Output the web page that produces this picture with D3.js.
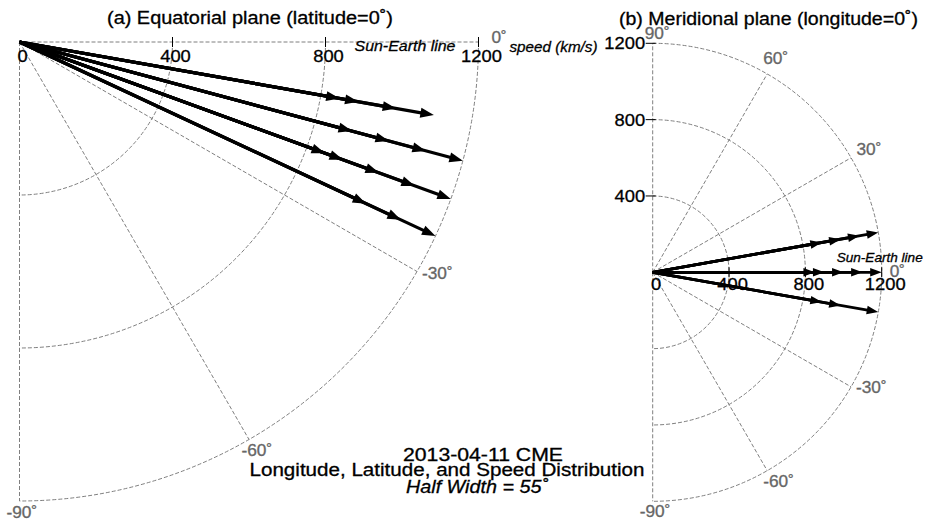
<!DOCTYPE html>
<html>
<head>
<meta charset="utf-8">
<script src="https://cdn.jsdelivr.net/npm/d3@7"></script>
<style>
  body { margin: 0; background: #fff; }
  svg { display: block; }
  text { font-family: "Liberation Sans", Arial, Helvetica, sans-serif; }
</style>
</head>
<body>
<svg id="chart" width="927" height="523"></svg>
<script>
// Speed rings (km/s) and outer limit shared by both panels
const speedTicks = [400, 800, 1200];
const speedLabels = ["0", "400", "800", "1200"];
const speedMax = 1200;

// (a) Equatorial plane: longitude of each ray (deg) and the speeds (km/s) marked on it
const lonAngles = [-10, -15, -20, -25];
const lonSpeeds = [
  [850, 900, 1000, 1100],
  [900, 1000, 1100, 1200],
  [850, 900, 1000, 1100, 1200],
  [1000, 1100, 1200]
];
const lonSpokes = [0, -30, -60, -90];

// (b) Meridional plane: latitude of each ray (deg) and the speeds (km/s) marked on it
const latAngles = [10, 0, -10];
const latSpeeds = [
  [900, 1000, 1100, 1200],
  [850, 900, 1000, 1100, 1200],
  [900, 1000, 1200]
];
const latSpokes = [90, 60, 30, 0, -30, -60, -90];

const titleA = "(a) Equatorial plane (latitude=0˚)";
const titleB = "(b) Meridional plane (longitude=0˚)";
const captionLines = ["2013-04-11 CME", "Longitude, Latitude, and Speed Distribution", "Half Width = 55˚"];

const svg = d3.select("#chart");
svg.append("rect").attr("width", 927).attr("height", 523).attr("fill", "#fff");

const GRID = "#7f7f7f";
const LABEL_GRAY = "#666";

function txt(g, s, x, y, o) {
  const sx = o.sx || 1;
  const fill = o.fill || "#000";
  const t = g.append("text")
    .attr("transform", `translate(${x},${y}) scale(${sx},1)`)
    .attr("font-size", o.size)
    .attr("text-anchor", o.anchor || "start")
    .attr("fill", fill)
    .attr("stroke", fill)
    .attr("stroke-width", 0.3)
    .text(s);
  if (o.italic) t.attr("font-style", "italic");
  if (o.len) t.attr("textLength", o.len / sx).attr("lengthAdjust", "spacingAndGlyphs");
  return t;
}

function polarPanel(cfg) {
  const g = svg.append("g");
  const r = d3.scaleLinear().domain([0, speedMax]).range([0, cfg.radius]);
  const rad = d => d * Math.PI / 180;
  const pt = (s, a) => [cfg.cx + r(s) * Math.cos(rad(a)), cfg.cy - r(s) * Math.sin(rad(a))];

  // speed rings
  speedTicks.forEach(s => {
    const p = d3.path();
    const [x0, y0] = pt(s, cfg.aMax);
    p.moveTo(x0, y0);
    p.arc(cfg.cx, cfg.cy, r(s), -rad(cfg.aMax), -rad(cfg.aMin), false);
    g.append("path").attr("d", p.toString())
      .attr("fill", "none").attr("stroke", GRID).attr("stroke-width", 1)
      .attr("stroke-dasharray", "4,2");
  });

  // angle spokes
  cfg.spokes.forEach(a => {
    const [x1, y1] = pt(speedMax, a);
    g.append("line").attr("x1", cfg.cx).attr("y1", cfg.cy).attr("x2", x1).attr("y2", y1)
      .attr("stroke", GRID).attr("stroke-width", 1).attr("stroke-dasharray", "4,2");
  });

  // spoke labels
  cfg.spokes.forEach(a => {
    const [x, y] = pt(speedMax, a);
    const [dx, dy] = cfg.labelOffset[a];
    txt(g, `${a}˚`, x + dx, y + dy, { size: 16, sx: 1.08, fill: LABEL_GRAY });
  });

  // ticks and labels along the 0° (Sun-Earth) line
  speedTicks.forEach(s => {
    const [x, y] = pt(s, 0);
    g.append("line").attr("x1", x).attr("x2", x).attr("y1", y - 5).attr("y2", y + 5)
      .attr("stroke", "#000").attr("stroke-width", 1);
  });
  [0].concat(speedTicks).forEach((s, i) => {
    const [x, y] = pt(s, 0);
    txt(g, speedLabels[i], x + cfg.tickDx, y + cfg.tickDy, { size: 17, sx: 1.08, anchor: "middle" });
  });

  // vertical speed axis (meridional panel only)
  if (cfg.vertAxis) {
    speedTicks.forEach((s, i) => {
      const [x, y] = pt(s, 90);
      g.append("line").attr("x1", x - 7).attr("x2", x + 3).attr("y1", y).attr("y2", y)
        .attr("stroke", "#000").attr("stroke-width", 1);
      txt(g, speedLabels[i + 1], x - 7.5, y + 6, { size: 17, sx: 1.08, anchor: "end" });
    });
  }

  // rays with arrowheads at each measured speed
  cfg.angles.forEach((a, k) => {
    const u = [Math.cos(rad(a)), -Math.sin(rad(a))];
    const n = [Math.sin(rad(a)), Math.cos(rad(a))];
    cfg.speeds[k].forEach(s => {
      const [tx, ty] = pt(s, a);
      const bx = tx - cfg.headLen * u[0], by = ty - cfg.headLen * u[1];
      g.append("line").attr("x1", cfg.cx).attr("y1", cfg.cy)
        .attr("x2", bx + 2 * u[0]).attr("y2", by + 2 * u[1])
        .attr("stroke", "#000").attr("stroke-width", cfg.lineW);
      g.append("polygon")
        .attr("points", [[tx, ty], [bx + cfg.headW * n[0], by + cfg.headW * n[1]],
                         [bx - cfg.headW * n[0], by - cfg.headW * n[1]]].map(p => p.join(",")).join(" "))
        .attr("fill", "#000");
    });
  });

  return { g, pt };
}

// (a) Equatorial plane
const pa = polarPanel({
  cx: 19.5, cy: 42, radius: 459, aMin: -90, aMax: 0,
  spokes: lonSpokes, angles: lonAngles, speeds: lonSpeeds,
  labelOffset: { "0": [13, 1.3], "-30": [5, 7], "-60": [-7.5, 16.5], "-90": [-13, 16.6] },
  tickDx: 3, tickDy: 19.7, headLen: 13.5, headW: 5, lineW: 3.2, vertAxis: false
});
txt(svg, titleA, 107, 24, { size: 17.5, len: 286 });
{
  const [x, y] = pa.pt(speedMax, 0);
  txt(svg, "speed (km/s)", x + 31, y + 9.7, { size: 15.5, italic: true, len: 88 });
  txt(svg, "Sun-Earth line", x - 124, y + 9, { size: 15.5, italic: true, len: 101 });
}

// (b) Meridional plane
const pb = polarPanel({
  cx: 652.7, cy: 272.3, radius: 229, aMin: -90, aMax: 90,
  spokes: latSpokes, angles: latAngles, speeds: latSpeeds,
  labelOffset: { "90": [-8, -4.3], "60": [-4, -10], "30": [5.5, -2.8], "0": [8, 5],
                 "-30": [5, 6.5], "-60": [-4, 16], "-90": [-13, 15.4] },
  tickDx: 3.5, tickDy: 17.7, headLen: 11.5, headW: 4.3, lineW: 2.8, vertAxis: true
});
txt(svg, titleB, 619, 25, { size: 17.5, len: 299 });
{
  const [x, y] = pb.pt(speedMax, 0);
  txt(svg, "Sun-Earth line", x - 45, y - 10, { size: 13.3, italic: true, len: 86 });
}

// caption
txt(svg, captionLines[0], 403, 461, { size: 17.5, len: 160 });
txt(svg, captionLines[1], 249.5, 475.5, { size: 17.5, len: 395 });
txt(svg, captionLines[2], 406, 493.3, { size: 17.5, italic: true, len: 142 });
</script>
</body>
</html>
